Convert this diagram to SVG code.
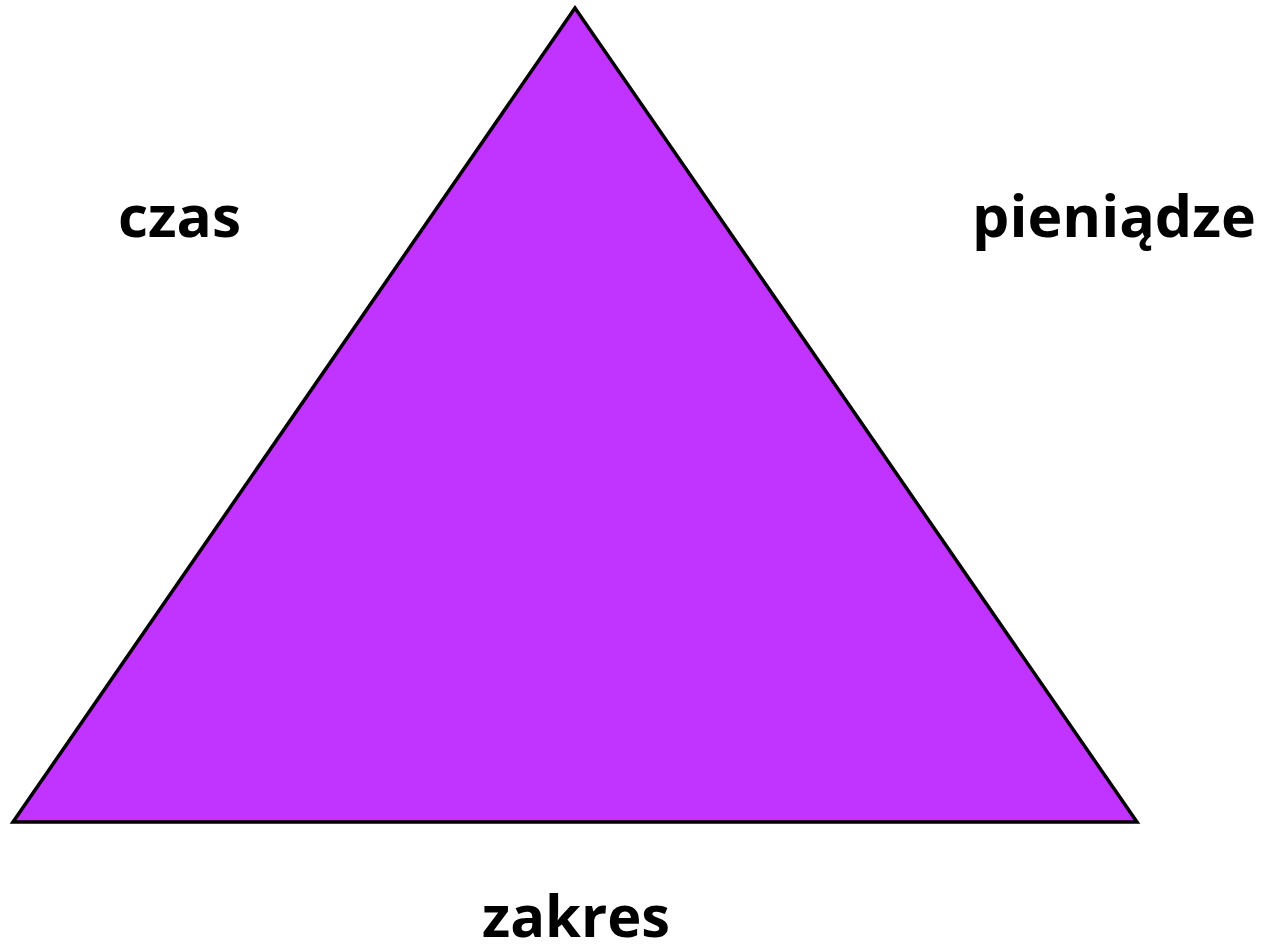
<svg xmlns="http://www.w3.org/2000/svg" width="1269" height="949" viewBox="0 0 1269 949">
<style>
.lbl{font-family:"Open Sans","Noto Sans","Liberation Sans",sans-serif;font-weight:bold;font-size:58px;fill:#000}
.tri{fill:#C133FF;stroke:#000;stroke-width:3.5;stroke-linejoin:miter}
</style>
<rect width="1269" height="949" fill="#fff"/>
<g id="triangle"><polygon class="tri" points="575,8 13,822 1137,822"/></g>
<g id="label-czas"><text class="lbl" x="118" y="237" textLength="123" lengthAdjust="spacingAndGlyphs">czas</text></g>
<g id="label-pieniadze"><text class="lbl" x="972" y="237" textLength="284" lengthAdjust="spacingAndGlyphs">pieniądze</text></g>
<g id="label-zakres"><text class="lbl" x="482" y="937" textLength="188" lengthAdjust="spacingAndGlyphs">zakres</text></g>
</svg>
